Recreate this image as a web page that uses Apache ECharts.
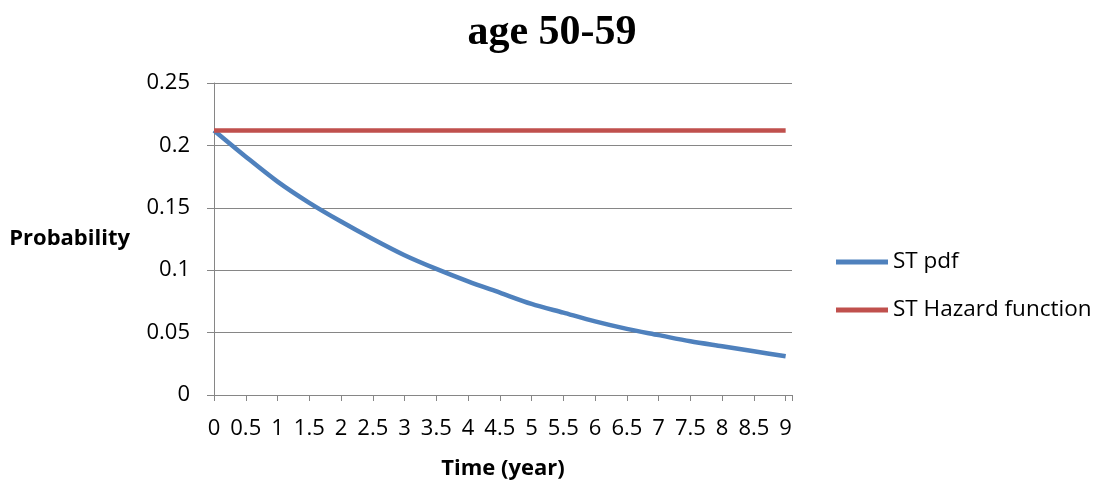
<!DOCTYPE html>
<html>
<head>
<meta charset="utf-8">
<script src="https://cdn.jsdelivr.net/npm/echarts@6/dist/echarts.min.js"></script>
<style>
  html, body { margin: 0; padding: 0; background: #fff; }
  #chart { width: 1104px; height: 489px; }
</style>
</head>
<body>
<div id="chart"></div>
<script>
// Time points (years)
const times = [0, 0.5, 1, 1.5, 2, 2.5, 3, 3.5, 4, 4.5, 5, 5.5, 6, 6.5, 7, 7.5, 8, 8.5, 9];
// Survival-time probability density
const stPdf = [0.212, 0.191, 0.171, 0.154, 0.139, 0.125, 0.112, 0.101, 0.091, 0.082,
               0.073, 0.066, 0.059, 0.053, 0.048, 0.043, 0.039, 0.035, 0.031];
// Constant hazard
const stHazard = [0.212, 0.212, 0.212, 0.212, 0.212, 0.212, 0.212, 0.212, 0.212, 0.212,
                  0.212, 0.212, 0.212, 0.212, 0.212, 0.212, 0.212, 0.212, 0.212];
const yTicks = [0, 0.05, 0.1, 0.15, 0.2, 0.25];

const labelFont = '"Open Sans", "DejaVu Sans", sans-serif';
const axisGray = '#868686';

const chart = echarts.init(document.getElementById('chart'));
chart.setOption({
  animation: false,
  backgroundColor: '#ffffff',
  title: {
    text: 'age 50-59',
    left: 547, top: 7, textAlign: 'center',
    textStyle: { fontFamily: '"Liberation Serif", "Times New Roman", serif', fontWeight: 'bold', fontSize: 42, color: '#000' }
  },
  legend: {
    orient: 'vertical',
    left: 836, top: 250, padding: 0,
    itemWidth: 52, itemHeight: 5, itemGap: 24,
    icon: 'rect',
    textStyle: { fontFamily: labelFont, fontSize: 22.5, color: '#000', lineHeight: 24 },
    data: ['ST pdf', 'ST Hazard function']
  },
  grid: {
    left: 214, right: 1104 - 792, top: 83, bottom: 489 - 395,
    containLabel: false, outerBoundsMode: 'none'
  },
  xAxis: {
    type: 'value', min: 0, max: 9.1, interval: 0.5,
    name: 'Time (year)', nameLocation: 'middle', nameGap: 63,
    nameTextStyle: { fontFamily: labelFont, fontSize: 22, fontWeight: 'bold', color: '#000' },
    axisLine: { show: true, lineStyle: { color: axisGray, width: 1 } },
    axisTick: { show: true, length: 6, lineStyle: { color: axisGray } },
    splitLine: { show: false },
    axisLabel: {
      fontFamily: labelFont, fontSize: 22, color: '#000', margin: 23,
      formatter: v => (times.indexOf(v) >= 0 ? String(v) : '')
    }
  },
  yAxis: {
    type: 'value', min: 0, max: 0.25, interval: 0.05,
    name: 'Probability', nameLocation: 'middle', nameRotate: 0, nameGap: 84,
    nameTextStyle: { fontFamily: labelFont, fontSize: 22, fontWeight: 'bold', color: '#000' },
    axisLine: { show: true, lineStyle: { color: axisGray, width: 1 } },
    axisTick: { show: true, inside: false, length: 7, lineStyle: { color: axisGray } },
    splitLine: { show: true, lineStyle: { color: axisGray, width: 1 } },
    axisLabel: {
      fontFamily: labelFont, fontSize: 22, color: '#000', margin: 24,
      formatter: v => { const t = yTicks.find(k => Math.abs(k - v) < 1e-9); return t === undefined ? '' : String(t); }
    }
  },
  series: [
    {
      name: 'ST pdf', type: 'line', showSymbol: false, symbol: 'none', smooth: 0.3,
      lineStyle: { color: '#4F81BD', width: 4.5 }, itemStyle: { color: '#4F81BD' },
      data: times.map((t, i) => [t, stPdf[i]])
    },
    {
      name: 'ST Hazard function', type: 'line', showSymbol: false, symbol: 'none',
      lineStyle: { color: '#C0504D', width: 4.5 }, itemStyle: { color: '#C0504D' },
      data: times.map((t, i) => [t, stHazard[i]])
    }
  ]
});
</script>
</body>
</html>
